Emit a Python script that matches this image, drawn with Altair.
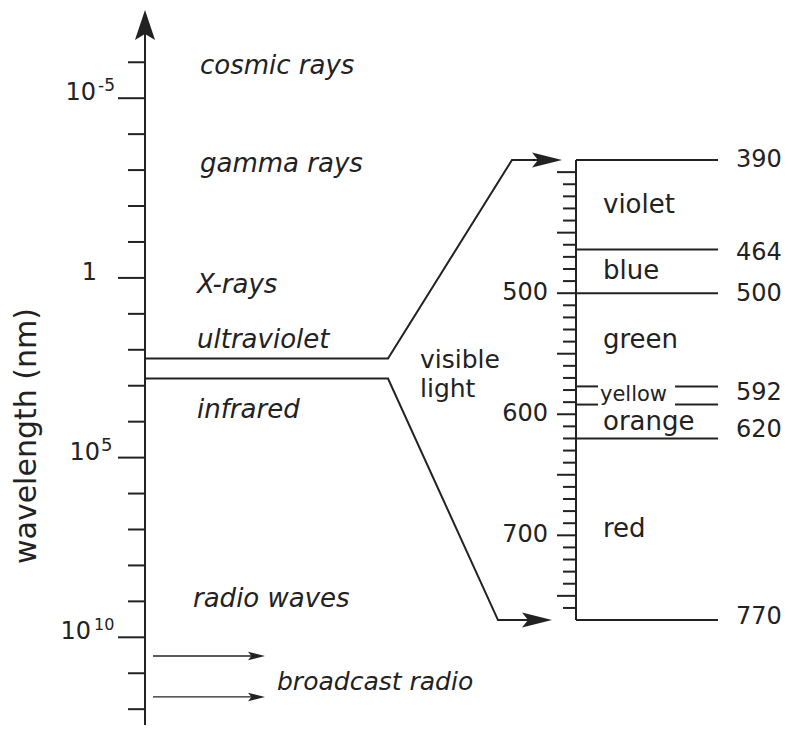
import altair as alt
import pandas as pd

# ------------------------------------------------------------------ data
# main axis: log10 of the wavelength in nm
decade_ticks = list(range(-6, 13))
labelled_decades = [-5, 0, 5, 10]
label_base = ["10", "1", "10", "10"]
label_sup = ["-5", "", "5", "10"]

regions = ["cosmic rays", "gamma rays", "X-rays", "ultraviolet", "infrared", "radio waves"]
region_log = [-5.68, -2.96, 0.42, 1.94, 3.91, 9.17]

visible_log = [2.24, 2.80]          # where the visible band leaves the main axis
visible_text = ["visible", "light"]
visible_text_log = [2.50, 3.31]
broadcast_log = [10.52, 11.66]
broadcast_label = "broadcast radio"
broadcast_label_log = 11.47
axis_title = "wavelength (nm)"
axis_title_log = 4.40

# zoomed visible-light scale, nm
band_edges = [390, 464, 500, 577, 592, 620, 770]
band_names = ["violet", "blue", "green", "yellow", "orange", "red"]
edge_labels = [390, 464, 500, 592, 620, 770]
edge_label_dy = [0, 3, 1, -12, -8, -3]
scale_labels = [500, 600, 700]
scale_ticks = list(range(400, 770, 10))

# ------------------------------------------------------------------ layout
W, H = 775, 717
LOG_DOMAIN = [-7.51, 12.44]
ZOOM_TOP, ZOOM_BOTTOM = -3.28, 9.52   # where 390 nm / 770 nm sit on the shared vertical scale
INK = "#222222"
FONT = "DejaVu Sans"

AX = 137            # main axis x
ZX = 568            # zoom scale x


def zoom(nm):
    return ZOOM_TOP + (nm - 390) * (ZOOM_BOTTOM - ZOOM_TOP) / (770 - 390)


xs = alt.Scale(domain=[0, W], nice=False, zero=False)
ys = alt.Scale(domain=LOG_DOMAIN, reverse=True, nice=False, zero=False)


def X(f):
    return alt.X(f"{f}:Q", scale=xs, axis=None)


def Y(f):
    return alt.Y(f"{f}:Q", scale=ys, axis=None)


def hrules(df, width=2.0):
    return alt.Chart(df).mark_rule(strokeWidth=width, color=INK).encode(
        x=X("x1"), x2=alt.X2("x2"), y=Y("y"))


def vrules(df, width=2.0):
    return alt.Chart(df).mark_rule(strokeWidth=width, color=INK).encode(
        x=X("x"), y=Y("y1"), y2=alt.Y2("y2"))


def texts(df, size, align="left", baseline="middle", italic=False, dy=0, angle=0):
    kw = dict(align=align, baseline=baseline, font=FONT, fontSize=size, color=INK, dy=dy)
    if italic:
        kw["fontStyle"] = "italic"
    if angle:
        kw["angle"] = angle
    return alt.Chart(df).mark_text(**kw).encode(x=X("x"), y=Y("y"), text="t:N")


UP = "M0,-1L0.67,1L0,0.6L-0.67,1Z"
RIGHT = "M1,0L-1,-0.5L-0.6,0L-1,0.5Z"


def heads(df, shape, size):
    return alt.Chart(df).mark_point(shape=shape, filled=True, size=size, color=INK,
                                    opacity=1, strokeWidth=0).encode(x=X("x"), y=Y("y"))


layers = []

# main axis + arrow
layers.append(vrules(pd.DataFrame({"x": [AX], "y1": [-6.9], "y2": [LOG_DOMAIN[1]]})))
layers.append(heads(pd.DataFrame({"x": [AX], "y": [-7.04]}), UP, 900))

# decade ticks
tick_df = pd.DataFrame({
    "y": decade_ticks,
    "x1": [110 if d in labelled_decades else 120 for d in decade_ticks],
    "x2": [AX] * len(decade_ticks),
})
layers.append(hrules(tick_df))

# decade labels (base right-aligned + superscript left-aligned)
base_right = [88, 89, 92, 83]
sup_left = [90, 0, 93, 86]
sup_size = [17, 0, 18, 16]
layers.append(texts(pd.DataFrame({"x": base_right, "y": labelled_decades, "t": label_base}),
                    24, align="right", dy=-5))
for sx, ss, d, s in zip(sup_left, sup_size, labelled_decades, label_sup):
    if s:
        layers.append(texts(pd.DataFrame({"x": [sx], "y": [d], "t": [s]}), ss, dy=-12))

# axis title
layers.append(texts(pd.DataFrame({"x": [19], "y": [axis_title_log], "t": [axis_title]}),
                    30, align="center", angle=270))

# region names
region_x = [192, 192, 189, 189, 189, 185]
layers.append(texts(pd.DataFrame({"x": region_x, "y": region_log, "t": regions}),
                    26, baseline="alphabetic", italic=True))

# broadcast radio arrows
layers.append(hrules(pd.DataFrame({"y": broadcast_log, "x1": [145, 145], "x2": [250, 250]}), 1.3))
layers.append(heads(pd.DataFrame({"x": [248.5, 248.5], "y": broadcast_log}), RIGHT, 289))
layers.append(texts(pd.DataFrame({"x": [269], "y": [broadcast_label_log], "t": [broadcast_label]}),
                    25, baseline="alphabetic", italic=True))

# connectors to the visible-light panel
conn = pd.DataFrame({
    "line": ["a"] * 4 + ["b"] * 4,
    "o": [0, 1, 2, 3] * 2,
    "x": [AX, 380, 504, 531, AX, 380, 490, 521],
    "y": [visible_log[0], visible_log[0], zoom(390), zoom(390),
          visible_log[1], visible_log[1], zoom(770), zoom(770)],
})
layers.append(alt.Chart(conn).mark_line(strokeWidth=2, color=INK).encode(
    x=X("x"), y=Y("y"), detail="line:N", order="o:Q"))
layers.append(heads(pd.DataFrame({"x": [539, 529], "y": [zoom(390), zoom(770)]}), RIGHT, 900))
layers.append(texts(pd.DataFrame({"x": [412, 412], "y": visible_text_log, "t": visible_text}),
                    25, baseline="alphabetic"))

# zoom scale
layers.append(vrules(pd.DataFrame({"x": [ZX], "y1": [zoom(390)], "y2": [zoom(770)]})))
zt = pd.DataFrame({
    "y": [zoom(n) for n in scale_ticks],
    "x1": [549 if n % 50 == 0 else 555 for n in scale_ticks],
    "x2": [ZX] * len(scale_ticks),
})
layers.append(hrules(zt))
layers.append(texts(pd.DataFrame({"x": [540] * 3, "y": [zoom(n) for n in scale_labels],
                                  "t": [str(n) for n in scale_labels]}), 24, align="right"))

# band boundaries
full = [e for e in band_edges if e not in (577, 592)]
split = [e for e in band_edges if e in (577, 592)]
layers.append(hrules(pd.DataFrame({"y": [zoom(e) for e in full], "x1": [ZX] * len(full),
                                   "x2": [710] * len(full)})))
layers.append(hrules(pd.DataFrame({"y": [zoom(e) for e in split] * 2,
                                   "x1": [ZX] * 2 + [667] * 2,
                                   "x2": [590] * 2 + [710] * 2})))

# band names
mids = [zoom((a + b) / 2) for a, b in zip(band_edges[:-1], band_edges[1:])]
for name, m in zip(band_names, mids):
    if name == "yellow":
        layers.append(texts(pd.DataFrame({"x": [592], "y": [m], "t": [name]}), 21))
    else:
        layers.append(texts(pd.DataFrame({"x": [595], "y": [m], "t": [name]}), 26))

# edge values
for v, d in zip(edge_labels, edge_label_dy):
    layers.append(texts(pd.DataFrame({"x": [728], "y": [zoom(v)], "t": [str(v)]}), 24, dy=d))

chart = alt.layer(*layers).properties(
    width=W, height=H, padding=0,
    autosize=alt.AutoSizeParams(type="none"),
).configure_view(stroke=None)

chart.save("out.html", embed_options={"renderer": "svg", "actions": False})
